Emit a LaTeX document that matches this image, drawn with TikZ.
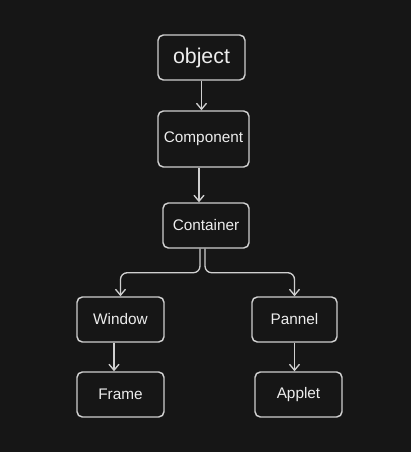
\documentclass[tikz,border=0pt]{standalone}
\usepackage{fontspec}
\setmainfont{Liberation Sans}
\usetikzlibrary{arrows.meta}

\definecolor{bgdark}{HTML}{161616}
\definecolor{edge}{HTML}{CFCFCF}
\definecolor{label}{HTML}{EDEDED}

\begin{document}
\begin{tikzpicture}[x=0.75pt,y=-0.75pt]
    % Define styles
    \tikzstyle{cls}=[draw=edge,line width=1.1pt,rounded corners=4pt,text=label,
        font=\fontsize{11.5}{13}\selectfont,inner sep=0pt,
        minimum width=65.25pt,minimum height=33.75pt]
    \tikzstyle{link}=[draw=edge,line width=1pt,
        -{Straight Barb[length=4.5pt,width=7.5pt,line width=1pt]}]

    % Background
    \fill[bgdark] (0,0) rectangle (411,452);

    % Top chain
    \node[cls,font=\fontsize{16}{18}\selectfont] (obj) at (201.5,57.5) {object};
    \node[cls,minimum width=68.25pt,minimum height=42pt] (comp) at (203.5,139) {Component};
    \node[cls,minimum width=64.5pt] (cont) at (206,225.5) {Container};

    % Second level
    \node[cls] (win) at (120.5,319.5) {Window};
    \node[cls,minimum width=63.75pt] (pan) at (294.5,319.5) {Pannel};

    % Third level
    \node[cls] (frame) at (120.5,394.5) {Frame};
    \node[cls] (applet) at (298.5,394.5) {Applet};

    % Draw connections
    \draw[link] (obj.south) -- (obj.south |- comp.north);
    \draw[link] ([shift={(-4.5,0)}]comp.south) -- ([shift={(-4.5,0)}]comp.south |- cont.north);
    \draw[link,rounded corners=5pt] ([shift={(-6,0)}]cont.south) -- ++(0,24) -| (win.north);
    \draw[link,rounded corners=5pt] ([shift={(-1,0)}]cont.south) -- ++(0,24) -| (pan.north);
    \draw[link] ([shift={(-6.5,0)}]win.south) -- ([shift={(-6.5,0)}]win.south |- frame.north);
    \draw[link] (pan.south) -- (pan.south |- applet.north);
\end{tikzpicture}
\end{document}
